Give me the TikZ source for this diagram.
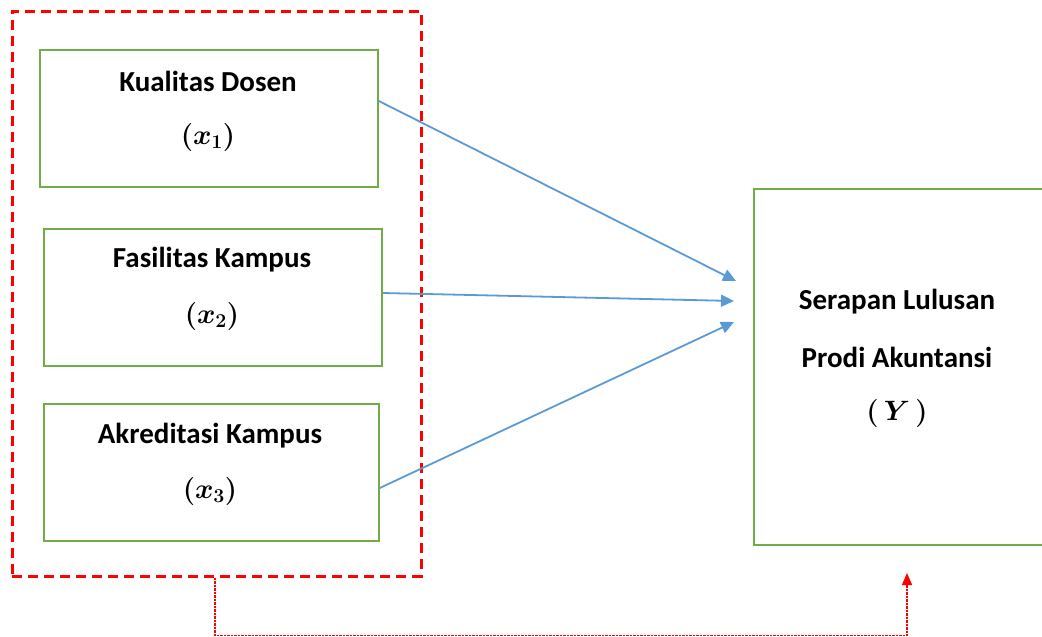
\RequirePackage{fix-cm}
\documentclass[tikz,border=0pt]{standalone}
\usepackage{fontspec}
\setmainfont{Carlito}
\usepackage{amsmath,bm}
\usetikzlibrary{arrows.meta}
\definecolor{boxgreen}{HTML}{70AD47}
\definecolor{arrblue}{HTML}{5B9BD5}
\tikzset{
  varbox/.style={draw=boxgreen, line width=1.6pt, rectangle, inner sep=0pt},
  lbl/.style={font=\fontsize{29}{34}\selectfont\bfseries, inner sep=0pt, anchor=center},
  mlbl/.style={font=\fontsize{28}{32}\selectfont\boldmath, inner sep=0pt, anchor=center},
  redbox/.style={draw=red, line width=3pt, dash pattern=on 10pt off 6pt, rectangle, inner sep=0pt},
  arr/.style={draw=arrblue, line width=1.8pt, -{Triangle[length=13pt,width=12pt]}},
  fb/.style={draw=red, line width=1.4pt, dash pattern=on 2.5pt off 1pt, -{Triangle[length=12pt,width=10pt]}}
}
\begin{document}
\begin{tikzpicture}[x=1pt,y=-1pt]
\clip (0,0) rectangle (1042,637);
% group box
\node[redbox, minimum width=409pt, minimum height=565pt] (grp) at (216.5,293.5) {};
% variable boxes
\node[varbox, minimum width=338pt, minimum height=137pt] (b1) at (209,118.5) {};
\node[varbox, minimum width=338pt, minimum height=137pt] (b2) at (213,297.5) {};
\node[varbox, minimum width=335pt, minimum height=137pt] (b3) at (211.5,472.5) {};
\node[varbox, minimum width=292pt, minimum height=356pt] (y) at (900,367) {};
% labels
\node[lbl] (t1a) at (208,81) {Kualitas Dosen};
\node[mlbl] (t1b) at (208,137) {$(x_1)$};
\node[lbl] (t2a) at (212,260) {Fasilitas Kampus};
\node[mlbl] (t2b) at (212,316) {$(x_2)$};
\node[lbl] (t3a) at (210,436) {Akreditasi Kampus};
\node[mlbl] (t3b) at (210,491) {$(x_3)$};
\node[lbl] (ya) at (897,302) {Serapan Lulusan};
\node[lbl] (yb) at (897,357) {Prodi Akuntansi};
\node[mlbl] (yc) at (897,413) {$(\,Y\,)$};
% arrow targets
\coordinate (e1) at (736,281);
\coordinate (e2) at (734,301);
\coordinate (e3) at (734,322);
\coordinate (fbend) at (907,573);
\draw[arr] ([yshift=17.5pt]b1.east) -- (e1);
\draw[arr] ([yshift=4.5pt]b2.east) -- (e2);
\draw[arr] ([yshift=-15.5pt]b3.east) -- (e3);
% feedback connector
\draw[fb] ([xshift=-1.5pt]grp.south) -- ++(0,58) -| (fbend);
\end{tikzpicture}
\end{document}
